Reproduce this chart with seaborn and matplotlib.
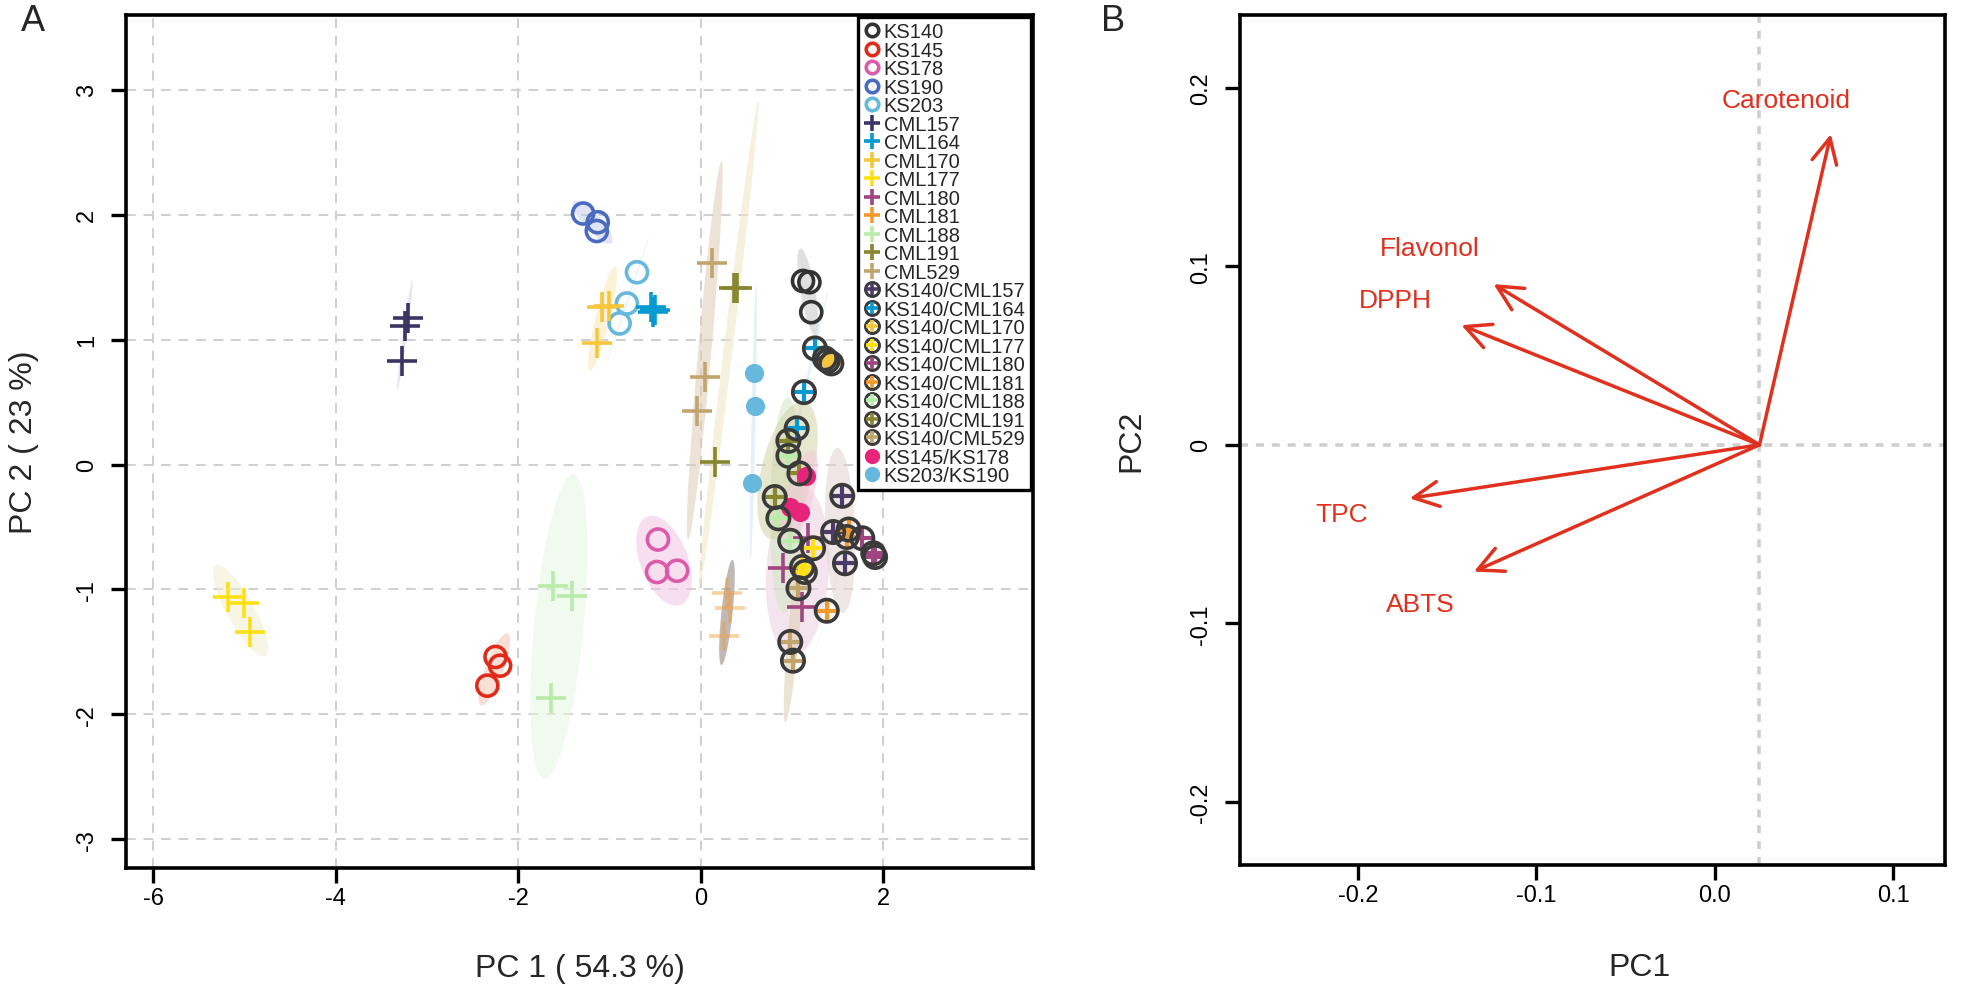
import numpy as np
import pandas as pd
import seaborn as sns
import matplotlib.pyplot as plt
from matplotlib.lines import Line2D
from matplotlib.markers import MarkerStyle

# ---- panel A: PCA scores (3 replicates per genotype) ----
genotypes = ["KS140", "KS145", "KS178", "KS190", "KS203",
             "CML157", "CML164", "CML170", "CML177", "CML180", "CML181",
             "CML188", "CML191", "CML529",
             "KS140/CML157", "KS140/CML164", "KS140/CML170", "KS140/CML177",
             "KS140/CML180", "KS140/CML181", "KS140/CML188", "KS140/CML191",
             "KS140/CML529", "KS145/KS178", "KS203/KS190"]
kinds = ["open"] * 5 + ["plus"] * 9 + ["hybrid"] * 9 + ["filled"] * 2
colors = ["#333333", "#E02B1B", "#DB5BAA", "#4A6CC0", "#66B8DC",
          "#3D3465", "#069BD0", "#F6C63D", "#FFE014", "#A0457F", "#F49A2C",
          "#B9EBA9", "#88862F", "#C1A56C",
          "#4A3B6B", "#069BD0", "#F6C63D", "#FFE014",
          "#A0457F", "#F49A2C", "#B9EBA9", "#88862F",
          "#C1A56C", "#E8247A", "#66B8DC"]
# fill of the 95 % ellipse behind each genotype
ellipse_colors = ["#C8C8C8", "#F7C7B2", "#F4C6E4", "#C9CEEE", "#CFE6F4",
                  "#D6D2E6", "#CDE9F5", "#FBE9B8", "#F2EDCD", "#EBCFE0", "#8F817C",
                  "#E6F6E0", "#EEE6C0", "#DECBB3",
                  "#E2D3D3", "#CDE9F5", "#FBE9B8", "#F5EFC0",
                  "#EBD5E2", "#F8D9B8", "#CFE8C6", "#D5D2A8",
                  "#DCCFB0", "#F3C9DA", "#CFE6F4"]

pc1 = [1.12, 1.19, 1.21,      # KS140
       -2.25, -2.20, -2.34,   # KS145
       -0.47, -0.48, -0.26,   # KS178
       -1.29, -1.13, -1.14,   # KS190
       -0.70, -0.81, -0.89,   # KS203
       -3.21, -3.24, -3.28,   # CML157
       -0.55, -0.50, -0.52,   # CML164
       -1.08, -1.01, -1.14,   # CML170
       -5.18, -5.01, -4.94,   # CML177
       1.11, 0.90, 1.17,      # CML180
       0.29, 0.32, 0.25,      # CML181
       -1.62, -1.41, -1.64,   # CML188
       0.36, 0.40, 0.15,      # CML191
       0.12, 0.05, -0.04,     # CML529
       1.55, 1.45, 1.58,      # KS140/CML157
       1.25, 1.13, 1.05,      # KS140/CML164
       1.39, 1.36, 1.43,      # KS140/CML170
       1.23, 1.11, 1.14,      # KS140/CML177
       1.77, 1.91, 1.89,      # KS140/CML180
       1.60, 1.62, 1.38,      # KS140/CML181
       0.96, 0.85, 0.98,      # KS140/CML188
       0.96, 1.08, 0.81,      # KS140/CML191
       1.07, 0.98, 1.01,      # KS140/CML529
       1.15, 0.98, 1.09,      # KS145/KS178
       0.58, 0.59, 0.56]      # KS203/KS190
pc2 = [1.47, 1.46, 1.22,
       -1.54, -1.61, -1.77,
       -0.60, -0.86, -0.85,
       2.01, 1.94, 1.87,
       1.54, 1.29, 1.13,
       1.17, 1.11, 0.83,
       1.26, 1.24, 1.22,
       1.26, 1.27, 0.97,
       -1.06, -1.11, -1.34,
       -1.14, -0.83, -0.59,
       -1.03, -1.15, -1.37,
       -0.97, -1.05, -1.87,
       1.41, 1.41, 0.02,
       1.61, 0.70, 0.43,
       -0.25, -0.54, -0.79,
       0.93, 0.58, 0.29,
       0.83, 0.85, 0.81,
       -0.67, -0.82, -0.86,
       -0.59, -0.74, -0.71,
       -0.58, -0.52, -1.17,
       0.07, -0.43, -0.61,
       0.19, -0.07, -0.26,
       -0.99, -1.42, -1.57,
       -0.09, -0.34, -0.38,
       0.73, 0.47, -0.15]

# ---- panel B: variable loadings ----
traits = ["Carotenoid", "Flavonol", "DPPH", "TPC", "ABTS"]
load_pc1 = [0.065, -0.124, -0.142, -0.171, -0.135]
load_pc2 = [0.174, 0.090, 0.067, -0.030, -0.071]
centre_pc1 = 0.025

scores = pd.DataFrame({"PC1": pc1, "PC2": pc2,
                       "genotype": [g for g in genotypes for _ in range(3)]})

sns.set_theme(style="white")
plt.rcParams['font.family'] = ['Liberation Sans', 'DejaVu Sans']
plt.rcParams['axes.unicode_minus'] = False

fig = plt.figure(figsize=(19.61, 9.95), dpi=100)
axA = fig.add_axes([0.06425, 0.1266, 0.4625, 0.8574])
axB = fig.add_axes([0.6323, 0.1296, 0.3595, 0.8544])


def ellipse_xy(xs, ys, r=2.4477, n=120):
    pts = np.column_stack([xs, ys])
    mu = pts.mean(axis=0)
    vals, vecs = np.linalg.eigh(np.cov(pts.T))
    vals = np.clip(vals, 0, None)
    t = np.linspace(0, 2 * np.pi, n)
    e = vecs @ (np.sqrt(vals)[:, None] * np.stack([np.cos(t), np.sin(t)])) * r
    return mu[0] + e[0], mu[1] + e[1]


ring = "#3A3A3A"
open_o = MarkerStyle("o", fillstyle="none")

# ellipses first, under the points
for g, ecol in zip(genotypes, ellipse_colors):
    d = scores[scores.genotype == g]
    ex, ey = ellipse_xy(d.PC1.values, d.PC2.values)
    axA.fill(ex, ey, color=ecol, alpha=0.55, lw=0, zorder=1)

for g, k, col in zip(genotypes, kinds, colors):
    d = scores[scores.genotype == g]
    if k == "open":
        sns.scatterplot(data=d, x="PC1", y="PC2", marker=open_o, color=col,
                        s=230, linewidth=2.6, ax=axA, zorder=3, legend=False)
    elif k == "plus":
        # CML181 marks look washed out in the original
        a = 0.45 if g == "CML181" else 1.0
        sns.scatterplot(data=d, x="PC1", y="PC2", marker="+", color=col,
                        s=450, linewidth=2.6, alpha=a, ax=axA, zorder=3,
                        legend=False)
    elif k == "hybrid":
        sns.scatterplot(data=d, x="PC1", y="PC2", marker="+", color=col,
                        s=260, linewidth=3.0, ax=axA, zorder=3, legend=False)
        sns.scatterplot(data=d, x="PC1", y="PC2", marker=open_o, color=ring,
                        s=260, linewidth=2.6, ax=axA, zorder=4, legend=False)
    else:
        sns.scatterplot(data=d, x="PC1", y="PC2", marker="o", color=col,
                        s=190, linewidth=0, ax=axA, zorder=3, legend=False)

axA.set_xlim(-6.30, 3.64)
axA.set_ylim(-3.23, 3.60)
axA.set_xticks([-6, -4, -2, 0, 2])
axA.set_yticks([-3, -2, -1, 0, 1, 2, 3])
axA.grid(True, ls=(0, (5, 4)), color="#CFCFCF", lw=1.4, zorder=0)
axA.set_axisbelow(True)
axA.set_xlabel("PC 1 ( 54.3 %)", fontsize=23, va="center")
axA.set_ylabel("PC 2 ( 23 %)", fontsize=23, va="center")
axA.xaxis.set_label_coords(0.5, -0.117)
axA.yaxis.set_label_coords(-0.113, 0.5)

# legend (R style)
handles = []
for k, col in zip(kinds, colors):
    if k == "open":
        h = Line2D([], [], ls="", marker="o", mfc="none", mec=col, mew=2.6, ms=9)
    elif k == "plus":
        h = Line2D([], [], ls="", marker="+", color=col, mew=2.6, ms=11)
    elif k == "hybrid":
        h = (Line2D([], [], ls="", marker="o", mfc="none", mec=ring, mew=2.2, ms=10),
             Line2D([], [], ls="", marker="+", color=col, mew=2.6, ms=8))
    else:
        h = Line2D([], [], ls="", marker="o", color=col, ms=10)
    handles.append(h)
leg = axA.legend(handles, genotypes, loc="upper right", fontsize=14.5,
                 frameon=True, fancybox=False, edgecolor="black", framealpha=1,
                 borderpad=0.25, labelspacing=-0.025, handlelength=0.8,
                 handletextpad=0.2, borderaxespad=0.12)
leg.get_frame().set_linewidth(2.4)
leg.set_zorder(10)

# ---- panel B ----
red = "#E0301E"
axB.axhline(0, color="#CFCFCF", lw=2.6, ls=(0, (2.2, 2.2)), zorder=0)
axB.axvline(centre_pc1, color="#CFCFCF", lw=2.6, ls=(0, (2.2, 2.2)), zorder=0)
label_dx = [-0.025, -0.036, -0.037, -0.038, -0.030]
label_dy = [0.019, 0.020, 0.014, -0.009, -0.018]
for name, lx, ly, dx, dy in zip(traits, load_pc1, load_pc2, label_dx, label_dy):
    axB.annotate("", xy=(lx, ly), xytext=(centre_pc1, 0),
                 arrowprops=dict(arrowstyle="->,head_length=0.9,head_width=0.45",
                                 color=red, lw=2.5, mutation_scale=20,
                                 shrinkA=0, shrinkB=0))
    axB.text(lx + dx, ly + dy, name, color=red, fontsize=19,
             ha="center", va="center")
axB.set_xlim(-0.2661, 0.1289)
axB.set_ylim(-0.2354, 0.2408)
axB.set_xticks([-0.2, -0.1, 0.0, 0.1])
axB.set_xticklabels(["-0.2", "-0.1", "0.0", "0.1"])
axB.set_yticks([-0.2, -0.1, 0.0, 0.1, 0.2])
axB.set_yticklabels(["-0.2", "-0.1", "0", "0.1", "0.2"])
axB.set_xlabel("PC1", fontsize=23, va="center")
axB.set_ylabel("PC2", fontsize=23, va="center")
axB.xaxis.set_label_coords(0.567, -0.12)
axB.yaxis.set_label_coords(-0.154, 0.5)

for ax in (axA, axB):
    for sp in ax.spines.values():
        sp.set_color("black")
        sp.set_linewidth(2.6)
    ax.tick_params(axis="both", direction="out", length=11, width=2.4,
                   colors="black", labelsize=17, bottom=True, left=True)
    ax.tick_params(axis="x", pad=3)
    ax.tick_params(axis="y", pad=9)
    for t in ax.get_yticklabels():
        t.set_rotation(90)
        t.set_va("center")

fig.text(0.0168, 0.978, "A", fontsize=26, ha="center", va="center")
fig.text(0.5676, 0.978, "B", fontsize=26, ha="center", va="center")

fig.savefig("out.png", dpi=100, facecolor="white")
